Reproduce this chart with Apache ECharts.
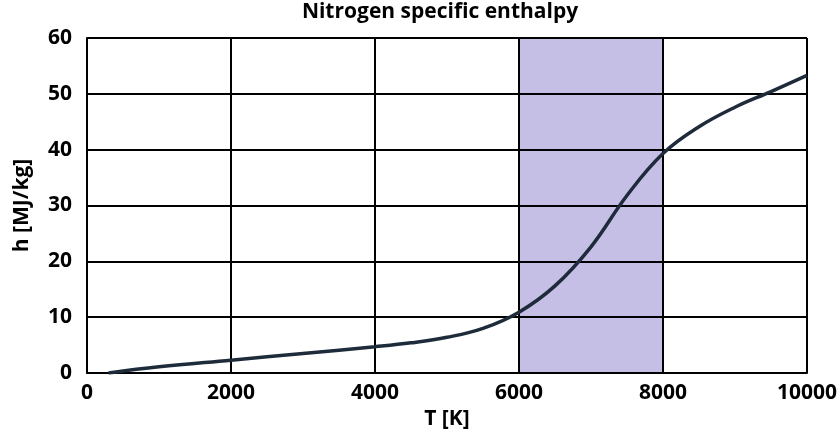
<!DOCTYPE html>
<html>
<head>
<meta charset="utf-8">
<script src="https://cdn.jsdelivr.net/npm/echarts@6/dist/echarts.min.js"></script>
<style>
  html, body { margin: 0; padding: 0; background: #fff; }
  #chart { width: 840px; height: 443px; }
</style>
</head>
<body>
<div id="chart"></div>
<script>
  // temperature [K] and specific enthalpy [MJ/kg]
  var temps = [300, 1000, 2000, 3000, 4000, 4500, 5000, 5500, 6000, 6500, 7000, 7500, 8000, 8500, 9000, 9500, 10000];
  var enthalpy = [0, 1.1, 2.3, 3.5, 4.7, 5.4, 6.4, 8.0, 10.9, 15.6, 22.6, 31.8, 39.3, 44.1, 47.6, 50.4, 53.3];
  // shaded band
  var bandFrom = 6000;
  var bandTo = 8000;

  var points = temps.map(function (t, i) { return [t, enthalpy[i]]; });
  var font = '"Open Sans", "Liberation Sans", sans-serif';
  var bold = { fontFamily: font, fontSize: 21, fontWeight: 'bold', color: '#000' };

  var myChart = echarts.init(document.getElementById('chart'));
  var option = {
    animation: false,
    title: {
      text: 'Nitrogen specific enthalpy',
      left: 440, top: 2, padding: 0, textAlign: 'center',
      textStyle: { fontFamily: font, fontSize: 21, fontWeight: 'bold', color: '#000' }
    },
    grid: { left: 87, right: 32, top: 38, bottom: 70 },
    xAxis: {
      type: 'value', min: 0, max: 10000, interval: 2000, z: 2,
      name: 'T [K]', nameLocation: 'middle', nameGap: 30,
      nameTextStyle: bold,
      axisLine: { lineStyle: { color: '#000', width: 2 } },
      axisTick: { show: false },
      axisLabel: Object.assign({ margin: 10, formatter: function (v) { return String(v); } }, bold),
      splitLine: { show: true, lineStyle: { color: '#000', width: 2 } }
    },
    yAxis: {
      type: 'value', min: 0, max: 60, interval: 10, z: 2,
      name: 'h [MJ/kg]', nameLocation: 'middle', nameGap: 54, nameRotate: 90,
      nameTextStyle: bold,
      axisLine: { show: true, lineStyle: { color: '#000', width: 2 } },
      axisTick: { show: false },
      axisLabel: Object.assign({ margin: 15 }, bold),
      splitLine: { show: true, lineStyle: { color: '#000', width: 2 } }
    },
    series: [
      {
        type: 'line', data: [], z: 1, silent: true,
        markArea: {
          silent: true,
          itemStyle: { color: '#c6bfe5' },
          data: [[{ xAxis: bandFrom }, { xAxis: bandTo }]]
        }
      },
      {
        type: 'line', data: points, z: 3,
        smooth: 0.4, symbol: 'none',
        lineStyle: { color: '#1e2b3b', width: 3.5 }
      }
    ]
  };
  myChart.setOption(option);
</script>
</body>
</html>
